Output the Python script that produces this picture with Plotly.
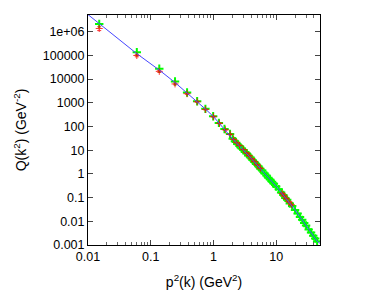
import plotly.graph_objects as go

# Fit curve
fit_x = [0.01, 0.06, 0.137, 0.244, 0.38, 0.55, 0.745, 1.0, 1.5, 2.03, 3.72, 10.5, 20, 45, 50]
fit_y = [5.2e6, 1.17e5, 2.38e4, 7.1e3, 2.55e3, 1.12e3, 541, 261, 77.6, 29.4, 5.53, 0.257, 0.0302, 0.00145, 0.00118]

# Green series
green_x = [0.0151, 0.060, 0.137, 0.244, 0.38, 0.55, 0.745, 0.99, 1.22, 1.5, 1.84, 2.03,
           2.2, 2.4, 2.6, 2.8, 3.0, 3.2, 3.4, 3.6, 3.9, 4.2, 4.5, 4.8, 5.2, 5.6, 6.0, 6.5,
           7.0, 7.5, 8.0, 8.6, 9.2, 10, 11, 12, 13, 14, 15, 16.5, 18, 20, 22, 24, 26, 28,
           30, 33, 36, 39, 42, 45]
green_y = [2.1e6, 1.34e5, 2.7e4, 7.8e3, 2.7e3, 1.15e3, 550, 270, 141, 78, 48, 30,
           24.0, 18.2, 15.1, 11.9, 10.2, 8.3, 7.2, 6.0, 4.9, 3.85, 3.2, 2.58, 2.09, 1.64, 1.37, 1.05,
           0.86, 0.69, 0.58, 0.46, 0.385, 0.295, 0.224, 0.163, 0.128, 0.097, 0.080, 0.0565, 0.0437, 0.0298, 0.0215, 0.0151, 0.0115, 0.0084,
           0.0067, 0.00455, 0.00338, 0.00244, 0.00189, 0.00143]

# Red series with errors
red_x = [0.0151, 0.060, 0.137, 0.244, 0.38, 0.55, 0.745, 1.0, 1.25, 1.55, 1.85, 2.1, 2.35, 2.6,
         3.0, 3.4, 3.7, 4.1, 4.5, 5.0, 5.6, 12.5, 13.5, 14.5, 16, 17.5]
red_y = [1.35e6, 9.8e4, 2.1e4, 6.2e3, 2.4e3, 1.1e3, 520, 258, 135, 72, 46, 28.5, 20.5, 15.8,
         10.6, 7.5, 5.9, 4.3, 3.35, 2.4, 1.72, 0.148, 0.117, 0.091, 0.066, 0.050]
red_err = [2.5e5, 1.2e4, 2.0e3, 500, 150, 60, 25, 12, 6, 3, 2, 1.2, 0.9, 0.7,
           0.5, 0.35, 0.3, 0.2, 0.15, 0.12, 0.09, 0.01, 0.008, 0.006, 0.005, 0.004]

x_tickvals = [0.01, 0.1, 1, 10]
x_ticktext = ["0.01", "0.1", "1", "10"]
x_minorvals = [0.02, 0.03, 0.04, 0.05, 0.06, 0.07, 0.08, 0.09,
               0.2, 0.3, 0.4, 0.5, 0.6, 0.7, 0.8, 0.9,
               2, 3, 4, 5, 6, 7, 8, 9, 20, 30, 40]
y_tickvals = [1e-3, 1e-2, 1e-1, 1, 10, 100, 1000, 1e4, 1e5, 1e6]
y_ticktext = ["0.001", "0.01", "0.1", "1", "10", "100", "1000", "10000", "100000", "1e+06"]

LINE = "rgb(70,70,255)"
fig = go.Figure()
fig.add_trace(go.Scatter(x=green_x, y=green_y, mode="markers",
                         marker=dict(symbol="cross-thin", size=6, color="#00ff00",
                                     line=dict(color="#00ff00", width=2)),
                         showlegend=False))
fig.add_trace(go.Scatter(x=red_x, y=red_y, mode="markers",
                         marker=dict(symbol="cross-thin", size=5, color="red",
                                     line=dict(color="red", width=1)),
                         error_y=dict(type="data", array=red_err, color="red", thickness=1, width=2),
                         opacity=0.8, showlegend=False))
fig.add_trace(go.Scatter(x=fit_x, y=fit_y, mode="lines",
                         line=dict(color=LINE, width=1), showlegend=False))

font = dict(family="Liberation Sans, Arial, sans-serif", size=12.5, color="black")
fig.update_layout(
    width=369, height=300,
    margin=dict(l=88, r=49, t=15, b=55),
    paper_bgcolor="white", plot_bgcolor="white",
    font=font,
    xaxis=dict(type="log", range=[-2, 1.699], tickvals=x_tickvals, ticktext=x_ticktext,
               ticks="inside", ticklen=5, tickcolor="#444", showline=True, linecolor="black",
               linewidth=1, mirror="allticks", showgrid=False, zeroline=False, automargin=False,
               minor=dict(tickvals=x_minorvals, ticks="inside", ticklen=3, tickcolor="#666", showgrid=False),
               title=dict(text="p<sup>2</sup>(k) (GeV<sup>2</sup>)", font=dict(size=14), standoff=14)),
    yaxis=dict(type="log", range=[-3, 6.699], tickvals=y_tickvals, ticktext=y_ticktext,
               ticks="inside", ticklen=5, tickcolor="#444", showline=True, linecolor="black",
               linewidth=1, mirror="allticks", showgrid=False, zeroline=False, automargin=False,
               minor=dict(ticks="", showgrid=False),
               title=dict(text="Q(k<sup>2</sup>) (GeV<sup>-2</sup>)", font=dict(size=14), standoff=12)),
)
fig.write_html("out.html", post_script="document.body.style.margin='0px';",
               config={"displayModeBar": False})
